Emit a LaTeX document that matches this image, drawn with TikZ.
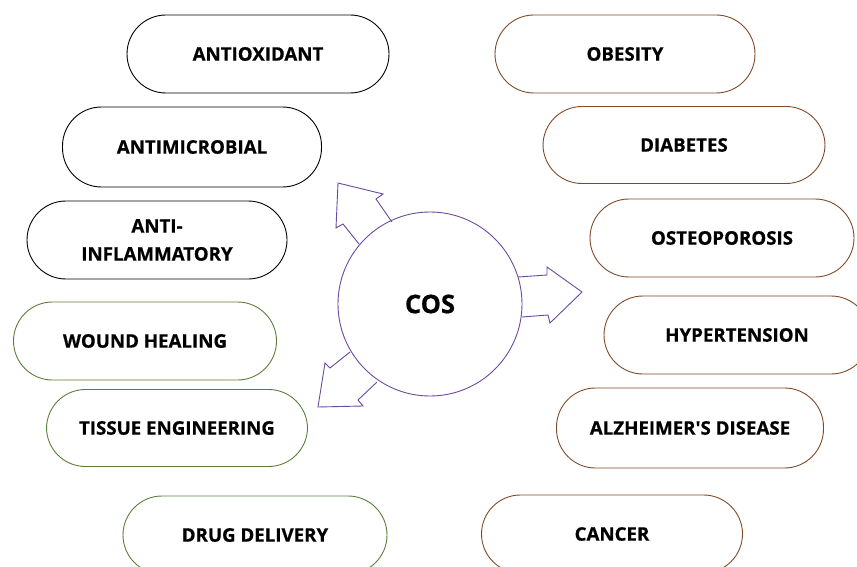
\documentclass[tikz,border=0pt]{standalone}
\usepackage{fontspec}
\setmainfont{Open Sans}[Ligatures=TeXOff,BoldFeatures={FakeBold=0.6}]
\definecolor{pillgreen}{HTML}{5B7F3A}
\definecolor{pillbrown}{HTML}{7F4A2A}
\definecolor{cospurple}{HTML}{6A4C9C}
\begin{document}
\begin{tikzpicture}[x=1pt,y=-1pt,
pill/.style={draw,rounded corners=39pt,minimum height=78pt,minimum width=262pt,line width=0.9pt,align=center,font=\fontsize{18.7}{28}\selectfont\bfseries},
greenpill/.style={pill,draw=pillgreen},
brownpill/.style={pill,draw=pillbrown},
blockarrow/.style={draw=cospurple,line width=0.9pt,line join=miter}]
\useasboundingbox[fill=white] (0,0) rectangle (857,567);
\node[pill] (antiox) at (258,54) {ANTIOXIDANT};
\node[pill,minimum width=259pt,minimum height=80pt] (antimic) at (192,147) {ANTIMICROBIAL};
\node[pill,minimum width=260pt] (antiinf) at (157,240) {ANTI-\\INFLAMMATORY};
\node[greenpill,minimum width=263pt] (wound) at (145,341) {WOUND HEALING};
\node[greenpill,minimum width=261pt,minimum height=77pt] (tissue) at (177,428) {TISSUE ENGINEERING};
\node[greenpill,minimum width=264pt] (drug) at (255,535) {DRUG DELIVERY};
\node[brownpill,minimum width=260pt] (obesity) at (625,54) {OBESITY};
\node[brownpill,minimum width=282pt,minimum height=77pt] (diabetes) at (684,145) {DIABETES};
\node[brownpill,minimum width=264pt] (osteo) at (722,238) {OSTEOPOROSIS};
\node[brownpill,minimum width=266pt] (hyper) at (737,335) {HYPERTENSION};
\node[brownpill,minimum width=267pt,minimum height=80pt] (alz) at (690,428) {ALZHEIMER'S DISEASE};
\node[brownpill,minimum width=261pt] (cancer) at (612,534) {CANCER};
\draw[blockarrow] (392,222) -- (376,199) -- (383,194) -- (338,183) -- (336,228) -- (343,224) -- (359,244);
\draw[blockarrow] (518,277) -- (547,275) -- (547,267) -- (582,292) -- (550,323) -- (548,315) -- (522,317);
\draw[blockarrow] (350,352) -- (330,368) -- (325,363) -- (318,407) -- (363,406) -- (358,400) -- (377,382);
\node[draw=cospurple,line width=0.9pt,circle,minimum size=184pt,font=\fontsize{25.5}{28}\selectfont\bfseries] (cos) at (430,304) {COS};
\end{tikzpicture}
\end{document}
